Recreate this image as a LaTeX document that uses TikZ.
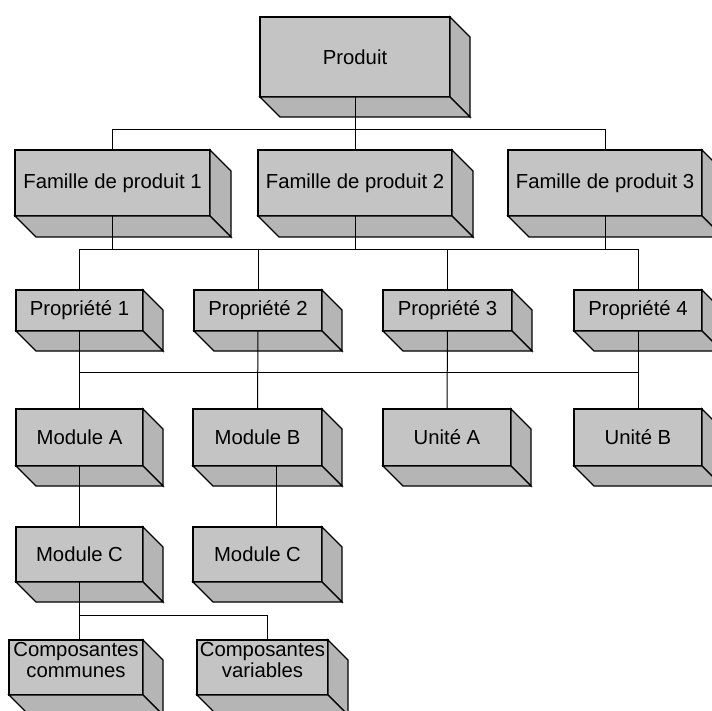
\documentclass[tikz,border=0pt]{standalone}
\usepackage{fontspec}
\setmainfont{Liberation Sans}
\definecolor{frontgray}{gray}{0.77}
\definecolor{sidegray}{gray}{0.71}
% draws the right and bottom faces of an extruded box node
\newcommand\boxdepth[2]{%
  \path[depthface] (#1.north east) -- ++(#2,#2) -- ([shift={(#2,#2)}]#1.south east) -- (#1.south east) -- cycle;
  \path[depthface] (#1.south west) -- ++(#2,#2) -- ([shift={(#2,#2)}]#1.south east) -- (#1.south east) -- cycle;
}
\begin{document}
\begin{tikzpicture}[x=1pt,y=-1pt,
  boxtext/.style={font=\fontsize{20.3}{21}\selectfont, align=center},
  boxfront/.style={boxtext, draw=black, fill=frontgray, line width=1.3pt,
    inner sep=0pt, outer sep=0pt},
  depthface/.style={draw=black, fill=sidegray, line width=1.3pt, line join=miter},
  link/.style={draw=black, line width=1pt},
  twoline/.style={label={[boxtext, yshift=7.5pt]center:{#1}}}]
\useasboundingbox (0,0) rectangle (712,711);
\clip (0,0) rectangle (712,711);

% bus levels
\coordinate (b1) at (0,130);
\coordinate (b2) at (0,250);
\coordinate (b3) at (0,372);
\coordinate (b4) at (0,615);

% top
\node[boxfront, minimum width=190pt, minimum height=80pt] (prod) at (355,57) {Produit};
\boxdepth{prod}{20}

% product families
\node[boxfront, minimum width=195pt, minimum height=66pt] (f1) at (112.5,183) {Famille de produit 1};
\node[boxfront, minimum width=194pt, minimum height=66pt] (f2) at (355,183) {Famille de produit 2};
\node[boxfront, minimum width=194pt, minimum height=66pt] (f3) at (605,183) {Famille de produit 3};
\boxdepth{f1}{21}\boxdepth{f2}{21}\boxdepth{f3}{21}

% properties
\node[boxfront, minimum width=127pt, minimum height=41pt] (p1) at (79.5,310.5) {Propriété 1};
\node[boxfront, minimum width=128pt, minimum height=41pt] (p2) at (258,310.5) {Propriété 2};
\node[boxfront, minimum width=129pt, minimum height=41pt] (p3) at (447.5,310.5) {Propriété 3};
\node[boxfront, minimum width=128pt, minimum height=41pt] (p4) at (638,310.5) {Propriété 4};
\boxdepth{p1}{20}\boxdepth{p2}{20}\boxdepth{p3}{20}\boxdepth{p4}{20}

% modules and units
\node[boxfront, minimum width=127pt, minimum height=57pt] (ma) at (79.5,437.5) {Module A};
\node[boxfront, minimum width=129pt, minimum height=57pt] (mb) at (257.5,437.5) {Module B};
\node[boxfront, minimum width=128pt, minimum height=57pt] (ua) at (447,437.5) {Unité A};
\node[boxfront, minimum width=128pt, minimum height=57pt] (ub) at (638,437.5) {Unité B};
\boxdepth{ma}{20}\boxdepth{mb}{20}\boxdepth{ua}{20}\boxdepth{ub}{20}

\node[boxfront, minimum width=127pt, minimum height=55pt] (mc1) at (79.5,554.5) {Module C};
\node[boxfront, minimum width=129pt, minimum height=55pt] (mc2) at (257.5,554.5) {Module C};
\boxdepth{mc1}{20}\boxdepth{mc2}{20}

% components
\node[boxfront, minimum width=134pt, minimum height=55pt,
  twoline={Composantes\\communes}] (cc) at (76,667.5) {};
\node[boxfront, minimum width=131pt, minimum height=55pt,
  twoline={Composantes\\variables}] (cv) at (262.5,667.5) {};
\boxdepth{cc}{20}\boxdepth{cv}{20}

% connectors: product to families
\draw[link] (prod.south) -- (prod.south |- b1);
\draw[link] (f1.north) -- (f1.north |- b1) -- (f3.north |- b1) -- (f3.north);
\draw[link] (f2.north) -- (f2.north |- b1);

% families to properties
\draw[link] (f1.south) -- (f1.south |- b2);
\draw[link] (f2.south) -- (f2.south |- b2);
\draw[link] (f3.south) -- (f3.south |- b2);
\draw[link] (p1.north) -- (p1.north |- b2) -- (p4.north |- b2) -- (p4.north);
\draw[link] (p2.north) -- (p2.north |- b2);
\draw[link] (p3.north) -- (p3.north |- b2);

% properties to modules and units
\draw[link] (p1.south) -- (ma.north);
\draw[link] (p2.south) -- (mb.north);
\draw[link] (p3.south) -- (ua.north);
\draw[link] (p4.south) -- (ub.north);
\draw[link] (p1.south |- b3) -- (p4.south |- b3);

% modules to sub-modules
\draw[link] (ma.south) -- (mc1.north);
\draw[link] ([xshift=18.5pt]mb.south) -- ([xshift=18.5pt]mc2.north);

% sub-module to components
\draw[link] (mc1.south) -- (mc1.south |- cc.north);
\draw[link] (mc1.south |- b4) -- ([xshift=4.5pt]cv.north |- b4) -- ([xshift=4.5pt]cv.north);
\end{tikzpicture}
\end{document}
